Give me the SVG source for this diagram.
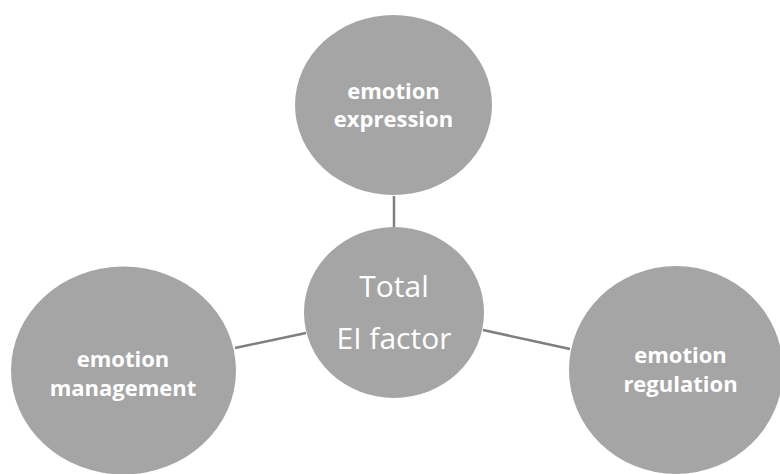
<svg xmlns="http://www.w3.org/2000/svg" width="780" height="474" viewBox="0 0 780 474">
  <style>
    .node { fill: #A5A5A5; }
    .link { stroke: #7F7F7F; stroke-width: 2.5; fill: none; }
    .lbl { fill: #FFFFFF; font-family: "Open Sans", "Liberation Sans", sans-serif; font-weight: bold; font-size: 22px; text-anchor: middle; }
    .hub { fill: #FFFFFF; font-family: "Open Sans", "Liberation Sans", sans-serif; font-size: 30px; text-anchor: middle; }
  </style>
  <rect width="780" height="474" fill="#FFFFFF"/>
  <g id="connectors">
    <line class="link" x1="394" y1="196" x2="394" y2="228"/>
    <line class="link" x1="235" y1="348" x2="306" y2="333"/>
    <line class="link" x1="483" y1="330" x2="570" y2="349"/>
  </g>
  <g id="expression">
    <ellipse class="node" cx="393.5" cy="105" rx="98.5" ry="90"/>
    <text class="lbl" x="393.5" y="99">emotion</text>
    <text class="lbl" x="393.5" y="127">expression</text>
  </g>
  <g id="total">
    <ellipse class="node" cx="394" cy="312.5" rx="90" ry="85.5"/>
    <text class="hub" x="394" y="297">Total</text>
    <text class="hub" x="394" y="349">EI factor</text>
  </g>
  <g id="management">
    <ellipse class="node" cx="123.5" cy="370.5" rx="112.5" ry="104"/>
    <text class="lbl" x="123" y="367">emotion</text>
    <text class="lbl" x="123" y="396">management</text>
  </g>
  <g id="regulation">
    <ellipse class="node" cx="676" cy="370" rx="107" ry="104"/>
    <text class="lbl" x="680.5" y="363">emotion</text>
    <text class="lbl" x="680.5" y="392">regulation</text>
  </g>
</svg>
